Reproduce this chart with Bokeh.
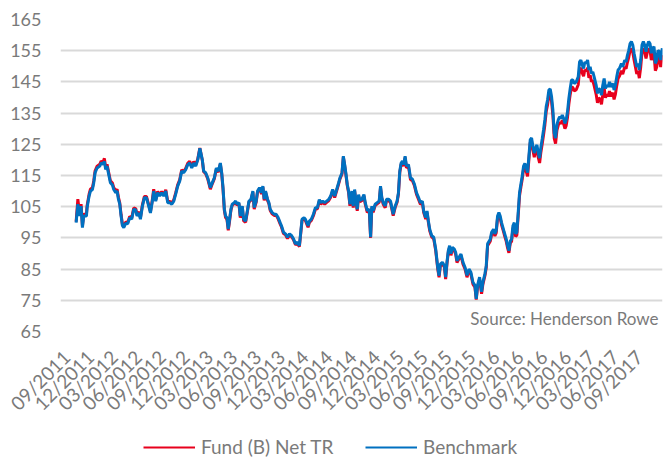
import math
import datetime as dt
from bokeh.plotting import figure
from bokeh.layouts import column
from bokeh.models import (Range1d, FixedTicker, DatetimeTickFormatter, Legend,
                          LegendItem, Label, ColumnDataSource)
from bokeh.embed import file_html
from bokeh.resources import INLINE

# ---------------- data ----------------
# observation dates as decimal years
dates = [
    2011.767, 2011.785, 2011.805, 2011.819, 2011.833, 2011.847, 2011.875, 2011.882, 2011.903, 2011.917,
    2011.938, 2011.952, 2011.966, 2011.987, 2012.015, 2012.029, 2012.049, 2012.063, 2012.077, 2012.091,
    2012.112, 2012.126, 2012.147, 2012.161, 2012.182, 2012.196, 2012.210, 2012.224, 2012.238, 2012.252,
    2012.266, 2012.286, 2012.307, 2012.328, 2012.349, 2012.370, 2012.391, 2012.405, 2012.426, 2012.440,
    2012.461, 2012.482, 2012.503, 2012.517, 2012.531, 2012.545, 2012.565, 2012.579, 2012.600, 2012.621,
    2012.642, 2012.663, 2012.684, 2012.705, 2012.726, 2012.747, 2012.768, 2012.789, 2012.809, 2012.830,
    2012.851, 2012.872, 2012.893, 2012.914, 2012.935, 2012.956, 2012.977, 2012.998, 2013.019, 2013.040,
    2013.062,
    2013.088, 2013.102, 2013.123, 2013.144, 2013.172, 2013.193, 2013.214, 2013.235, 2013.256, 2013.277,
    2013.291, 2013.305, 2013.319, 2013.332, 2013.346, 2013.360, 2013.374, 2013.388, 2013.402, 2013.423,
    2013.437, 2013.451, 2013.472, 2013.486, 2013.507, 2013.521, 2013.542, 2013.563, 2013.577, 2013.597,
    2013.618, 2013.632, 2013.653, 2013.667, 2013.688, 2013.709, 2013.723, 2013.737, 2013.751, 2013.772,
    2013.786, 2013.800, 2013.821, 2013.841, 2013.862, 2013.883, 2013.904, 2013.918, 2013.939, 2013.960,
    2013.981, 2014.002, 2014.023, 2014.044, 2014.065, 2014.086, 2014.106, 2014.120, 2014.134, 2014.155,
    2014.169, 2014.183, 2014.197, 2014.211, 2014.232, 2014.253, 2014.274, 2014.295, 2014.315, 2014.330,
    2014.350, 2014.371, 2014.392, 2014.413, 2014.434, 2014.455, 2014.476, 2014.497, 2014.518, 2014.532,
    2014.553, 2014.567, 2014.581, 2014.595, 2014.608, 2014.622, 2014.636,
    2014.657, 2014.671, 2014.685, 2014.699, 2014.713, 2014.727, 2014.741, 2014.762, 2014.783, 2014.797,
    2014.818, 2014.839, 2014.853, 2014.866, 2014.880, 2014.901, 2014.922, 2014.943, 2014.957, 2014.971,
    2014.985, 2015.006, 2015.020, 2015.041, 2015.062, 2015.076, 2015.090, 2015.111, 2015.131, 2015.145,
    2015.159, 2015.173, 2015.187, 2015.201, 2015.215, 2015.229, 2015.250, 2015.271, 2015.292, 2015.313,
    2015.334, 2015.355, 2015.375, 2015.396, 2015.410, 2015.431, 2015.445, 2015.459, 2015.473, 2015.494,
    2015.515, 2015.536, 2015.557, 2015.571, 2015.585, 2015.606, 2015.627, 2015.640, 2015.654, 2015.668,
    2015.682, 2015.696, 2015.710, 2015.731, 2015.745, 2015.759, 2015.780, 2015.801, 2015.822, 2015.843,
    2015.864, 2015.885, 2015.905, 2015.926, 2015.947, 2015.961, 2015.975, 2015.996, 2016.017, 2016.031,
    2016.052, 2016.066, 2016.080,
    2016.108, 2016.122, 2016.142, 2016.156, 2016.170, 2016.184, 2016.198, 2016.212, 2016.226, 2016.240,
    2016.254, 2016.275, 2016.289, 2016.303, 2016.317, 2016.331, 2016.345, 2016.359, 2016.373, 2016.386,
    2016.400, 2016.414, 2016.428, 2016.442, 2016.456, 2016.470, 2016.484, 2016.498, 2016.512, 2016.526,
    2016.540, 2016.554, 2016.568, 2016.582, 2016.596, 2016.610, 2016.624, 2016.637, 2016.651, 2016.665,
    2016.679, 2016.693, 2016.707, 2016.721, 2016.735, 2016.749, 2016.763, 2016.777, 2016.791, 2016.805,
    2016.819, 2016.833, 2016.847, 2016.861, 2016.875, 2016.889, 2016.902, 2016.916, 2016.930, 2016.944,
    2016.958, 2016.972, 2016.986, 2017.007, 2017.028, 2017.042, 2017.056, 2017.070, 2017.084, 2017.098,
    2017.112, 2017.126, 2017.140, 2017.153, 2017.167, 2017.181, 2017.195, 2017.216, 2017.230, 2017.244,
    2017.258, 2017.272, 2017.286, 2017.300, 2017.314, 2017.328, 2017.342, 2017.356, 2017.370, 2017.391,
    2017.404, 2017.418, 2017.432, 2017.446, 2017.460, 2017.481, 2017.495, 2017.516, 2017.530, 2017.544,
    2017.558, 2017.572, 2017.586, 2017.600, 2017.614, 2017.628, 2017.642, 2017.655, 2017.669, 2017.683,
    2017.697, 2017.711, 2017.725, 2017.739, 2017.753, 2017.767, 2017.781, 2017.795, 2017.809, 2017.823,
    2017.837, 2017.851, 2017.865, 2017.879, 2017.893, 2017.910,
]

benchmark = [
    99.9, 105.8, 102.0, 105.2, 98.3, 102.0, 102.0, 104.7, 108.4, 110.0,
    110.5, 112.7, 115.9, 117.4, 118.0, 119.0, 118.6, 119.5, 116.9, 118.0,
    114.8, 112.7, 112.0, 110.5, 109.5, 110.0, 107.4, 105.8, 102.0, 98.9,
    98.3, 99.7, 99.5, 101.5, 101.0, 104.2, 104.0, 102.0, 103.0, 101.0,
    105.2, 107.9, 107.9, 106.3, 104.7, 103.0, 106.8, 110.0, 106.8, 109.5,
    108.4, 109.5, 108.4, 110.0, 106.3, 106.3, 105.8, 106.8, 109.0, 111.6,
    113.2, 116.4, 115.9, 116.9, 118.5, 119.0, 117.4, 119.0, 118.0, 120.0,
    123.7,
    120.0, 116.4, 115.9, 114.3, 111.1, 112.7, 114.3, 117.4, 116.4, 119.0,
    115.9, 111.1, 104.2, 102.0, 101.5, 97.8, 101.0, 104.2, 105.8, 106.3,
    106.8, 105.8, 106.3, 102.0, 105.2, 101.0, 100.4, 104.2, 106.8, 107.3,
    110.0, 104.7, 106.8, 110.0, 111.1, 109.5, 111.6, 107.4, 110.0, 107.4,
    106.3, 104.2, 103.1, 102.6, 102.6, 101.5, 99.9, 98.9, 96.8, 96.3,
    95.2, 96.3, 95.8, 94.7, 93.1, 93.6, 92.5, 96.8, 101.0, 101.5,
    101.0, 99.9, 98.9, 100.4, 101.0, 102.6, 104.7, 104.7, 107.3, 106.3,
    106.8, 106.3, 106.8, 107.3, 108.4, 110.5, 108.4, 110.5, 112.7, 114.3,
    115.9, 121.2, 118.5, 115.4, 112.2, 110.0, 105.8,
    110.0, 105.2, 110.5, 107.0, 104.2, 108.9, 107.0, 107.4, 108.9, 106.3,
    103.7, 104.2, 95.2, 105.2, 103.7, 105.8, 106.3, 106.8, 111.6, 107.9,
    106.3, 105.2, 107.4, 107.4, 106.8, 104.7, 102.6, 105.2, 106.8, 109.5,
    116.4, 119.0, 119.6, 118.5, 121.2, 118.0, 118.5, 114.3, 113.8, 112.2,
    109.5, 108.0, 106.3, 106.8, 103.6, 101.5, 103.6, 100.4, 97.8, 95.7,
    95.2, 91.4, 85.6, 82.9, 86.6, 87.2, 86.1, 82.4, 87.2, 90.9,
    92.5, 89.9, 92.0, 91.4, 90.4, 87.7, 88.8, 89.8, 87.2, 85.6,
    83.0, 85.0, 84.0, 80.8, 79.8, 75.5, 79.8, 82.4, 77.7, 80.8,
    83.5, 86.1, 93.1,
    94.6, 96.8, 97.8, 96.3, 97.3, 102.0, 103.1, 102.0, 99.9, 98.4,
    96.8, 94.6, 92.5, 90.9, 94.0, 94.6, 98.9, 99.9, 96.3, 96.8,
    103.1, 109.5, 112.2, 114.8, 118.0, 118.9, 117.5, 115.9, 121.2, 126.5,
    127.0, 124.3, 122.2, 124.0, 124.8, 122.2, 120.6, 124.0, 126.7, 129.6,
    132.8, 137.1, 139.2, 142.4, 142.7, 140.3, 136.0, 128.6, 127.0, 131.2,
    132.8, 133.8, 133.3, 134.4, 133.3, 131.7, 132.8, 135.5, 139.7, 142.9,
    145.6, 145.6, 144.5, 145.0, 146.6, 151.4, 152.0, 150.4, 149.3, 151.4,
    150.9, 152.0, 148.8, 149.8, 147.7, 148.2, 146.6, 144.0, 141.3, 142.9,
    142.4, 140.8, 144.0, 146.1, 142.9, 144.0, 143.4, 145.0, 143.4, 144.5,
    142.4, 144.0, 146.6, 148.8, 149.3, 150.9, 149.8, 152.0, 151.4, 153.5,
    155.1, 157.3, 157.9, 156.8, 154.2, 152.0, 149.8, 150.9, 148.8, 152.0,
    156.8, 157.9, 156.8, 154.7, 156.8, 157.9, 157.3, 154.2, 155.8, 156.3,
    150.9, 152.0, 155.1, 154.7, 152.0, 155.8,
]

fund = [
    100.2, 107.4, 102.6, 105.8, 98.9, 102.6, 102.6, 105.3, 109.0, 110.6,
    111.1, 113.3, 116.5, 118.0, 118.6, 119.6, 119.2, 120.5, 117.5, 118.6,
    115.4, 113.3, 112.6, 111.1, 110.1, 110.6, 108.0, 106.2, 102.4, 99.3,
    98.7, 100.1, 99.9, 101.9, 101.4, 104.6, 104.4, 102.4, 103.4, 101.4,
    105.6, 108.3, 108.3, 106.7, 105.1, 103.4, 107.2, 110.6, 107.2, 109.9,
    108.8, 109.9, 108.8, 110.4, 106.7, 106.7, 106.2, 107.2, 109.4, 112.0,
    113.6, 116.8, 116.3, 117.3, 118.9, 119.6, 117.8, 119.5, 118.4, 120.3,
    123.8,
    119.8, 116.2, 115.6, 114.0, 110.6, 112.4, 114.0, 117.1, 116.1, 118.7,
    115.6, 110.6, 103.8, 101.5, 101.0, 97.4, 100.4, 103.9, 105.5, 106.0,
    106.5, 105.5, 106.0, 101.5, 104.9, 100.5, 100.0, 103.9, 106.5, 107.0,
    109.7, 104.2, 106.5, 109.7, 110.8, 109.1, 111.3, 107.0, 109.7, 107.0,
    106.0, 103.8, 102.7, 102.2, 102.3, 101.1, 99.5, 98.5, 96.4, 96.0,
    94.8, 96.0, 95.4, 94.4, 92.8, 93.2, 92.2, 96.4, 100.6, 101.1,
    100.6, 99.5, 98.4, 100.0, 100.6, 102.1, 104.2, 104.3, 106.9, 105.8,
    106.4, 105.8, 106.4, 106.9, 108.0, 110.1, 107.9, 110.1, 112.3, 113.9,
    115.5, 120.9, 118.1, 115.0, 111.8, 109.6, 105.3,
    109.6, 104.7, 110.1, 106.6, 103.7, 108.5, 106.6, 107.0, 108.5, 105.8,
    103.2, 103.7, 95.0, 104.8, 103.2, 105.4, 105.9, 106.4, 111.2, 107.5,
    105.8, 104.7, 107.0, 107.0, 106.3, 104.2, 102.1, 104.8, 106.4, 109.1,
    116.0, 118.5, 119.0, 118.0, 120.8, 117.5, 118.0, 113.7, 113.3, 111.7,
    109.0, 107.4, 105.8, 106.3, 103.1, 101.0, 103.1, 100.0, 97.3, 95.3,
    94.7, 90.9, 85.1, 82.4, 86.1, 86.7, 85.6, 81.8, 86.7, 90.4,
    92.0, 89.4, 91.5, 90.9, 89.8, 87.1, 88.3, 89.3, 86.6, 85.1,
    82.4, 84.5, 83.4, 80.2, 79.2, 75.2, 79.2, 81.8, 77.1, 80.2,
    82.9, 85.5, 92.5,
    93.9, 96.1, 97.1, 95.6, 96.6, 101.3, 102.4, 101.3, 99.2, 97.7,
    96.1, 93.9, 91.8, 90.2, 93.3, 93.9, 98.0, 99.0, 95.4, 95.9,
    102.1, 108.5, 111.2, 113.8, 117.0, 117.9, 116.3, 114.7, 120.2, 125.5,
    126.0, 123.1, 120.9, 122.8, 123.6, 120.8, 119.0, 122.4, 125.1, 128.0,
    131.2, 135.5, 137.6, 140.8, 141.1, 138.7, 134.3, 126.9, 125.2, 129.5,
    131.1, 132.1, 131.6, 132.7, 131.6, 130.0, 131.0, 133.7, 137.9, 141.0,
    143.3, 143.2, 142.1, 142.5, 144.1, 148.9, 149.5, 147.9, 146.8, 148.9,
    148.4, 149.5, 146.3, 147.2, 145.1, 145.5, 143.8, 141.0, 138.3, 139.9,
    139.4, 137.8, 141.0, 143.1, 139.9, 141.0, 140.4, 142.0, 140.4, 141.5,
    139.4, 141.0, 143.8, 146.1, 146.8, 148.6, 147.5, 149.8, 149.2, 151.3,
    152.9, 155.1, 155.7, 154.6, 152.0, 149.8, 147.5, 148.6, 146.2, 149.6,
    154.6, 155.7, 154.6, 152.5, 154.6, 155.7, 155.1, 152.0, 153.6, 154.1,
    148.6, 149.7, 152.9, 152.5, 149.8, 153.6,
]

y_ticks = [65, 75, 85, 95, 105, 115, 125, 135, 145, 155, 165]
x_tick_labels = [
    "09/2011", "12/2011", "03/2012", "06/2012", "09/2012", "12/2012", "03/2013",
    "06/2013", "09/2013", "12/2013", "03/2014", "06/2014", "09/2014", "12/2014",
    "03/2015", "06/2015", "09/2015", "12/2015", "03/2016", "06/2016", "09/2016",
    "12/2016", "03/2017", "06/2017", "09/2017",
]
series_names = ["Fund (B) Net TR", "Benchmark"]
series_colors = ["#E8001C", "#0070C0"]
source_text = "Source: Henderson Rowe"

# ---------------- helpers ----------------
def dec_to_dt(t):
    y = int(t)
    a = dt.datetime(y, 1, 1)
    b = dt.datetime(y + 1, 1, 1)
    return a + (b - a) * (t - y)

EPOCH = dt.datetime(1970, 1, 1)
def to_ms(d):
    return (d - EPOCH).total_seconds() * 1000.0

n = min(len(dates), len(benchmark), len(fund))
xs = [dec_to_dt(t) for t in dates[:n]]
src = ColumnDataSource(dict(x=xs, bench=benchmark[:n], fund=fund[:n]))

tick_ms = [to_ms(dt.datetime(int(s[3:]), int(s[:2]), 1)) for s in x_tick_labels]

GREY = "#7A7A7A"
FONT = "Lato"

W = 663
H_MAIN, H_LEG = 425, 34
LEFT, RIGHT, TOP = 60, 1, 19
FRAME_H = 314

p = figure(width=W, height=H_MAIN, x_axis_type="datetime",
           x_range=Range1d(dec_to_dt(2011.603), dec_to_dt(2017.912)),
           y_range=Range1d(65, 165),
           output_backend="svg", toolbar_location=None,
           min_border_left=LEFT, min_border_right=RIGHT,
           min_border_top=TOP, min_border_bottom=H_MAIN - TOP - FRAME_H)
p.outline_line_color = None
p.background_fill_color = "white"
p.border_fill_color = "white"

p.line("x", "fund", source=src, line_color=series_colors[0], line_width=3)
p.line("x", "bench", source=src, line_color=series_colors[1], line_width=3)

# y axis
p.yaxis.ticker = FixedTicker(ticks=y_ticks)
p.yaxis.axis_line_color = None
p.yaxis.major_tick_line_color = None
p.yaxis.minor_tick_line_color = None
p.yaxis.major_label_standoff = 13
p.yaxis.major_label_text_font = FONT
p.yaxis.major_label_text_font_size = "18px"
p.yaxis.major_label_text_color = GREY

p.ygrid.ticker = FixedTicker(ticks=y_ticks)
p.ygrid.grid_line_color = "#D9D9D9"
p.ygrid.grid_line_width = 2
p.xgrid.visible = False

# x axis
p.xaxis.ticker = FixedTicker(ticks=tick_ms)
fmt = "%m/%Y"
p.xaxis.formatter = DatetimeTickFormatter(
    microseconds=fmt, milliseconds=fmt, seconds=fmt, minsec=fmt, minutes=fmt,
    hourmin=fmt, hours=fmt, days=fmt, months=fmt, years=fmt,
    strip_leading_zeros=False)
p.xaxis.axis_line_color = None
p.xaxis.major_tick_line_color = None
p.xaxis.minor_tick_line_color = None
p.xaxis.major_label_orientation = math.pi / 4
p.xaxis.major_label_standoff = 16
p.xaxis.major_label_text_font = FONT
p.xaxis.major_label_text_font_size = "19px"
p.xaxis.major_label_text_color = GREY

p.add_layout(Label(x=W - LEFT - RIGHT - 4, y=13, x_units="screen", y_units="screen",
                   text=source_text, text_align="right", text_baseline="middle",
                   text_font=FONT, text_font_size="17px", text_color=GREY))

# ---------------- legend strip below the chart ----------------
q = figure(width=W, height=H_LEG, x_range=Range1d(0, 1), y_range=Range1d(0, 1),
           output_backend="svg", toolbar_location=None,
           min_border_left=0, min_border_right=0, min_border_top=0, min_border_bottom=0,
           x_axis_location=None, y_axis_location=None)
q.outline_line_color = None
q.grid.visible = False
q.border_fill_color = "white"
lf = q.line("x", "fund", source=src, line_color=series_colors[0], line_width=2.2)
lb = q.line("x", "bench", source=src, line_color=series_colors[1], line_width=2.2)

legend_x = [83, 305]   # item offsets from the chart's left edge
for name, rend, lx in zip(series_names, [lf, lb], legend_x):
    q.add_layout(Legend(items=[LegendItem(label=name, renderers=[rend])],
                        orientation="horizontal", location=(lx, 1),
                        glyph_width=52, glyph_height=20, label_standoff=6,
                        padding=0, margin=0, border_line_color=None,
                        background_fill_alpha=0,
                        label_text_font=FONT, label_text_font_size="19px",
                        label_text_color=GREY))

layout = column(p, q, spacing=0)
open("out.html", "w").write(file_html(layout, INLINE))
